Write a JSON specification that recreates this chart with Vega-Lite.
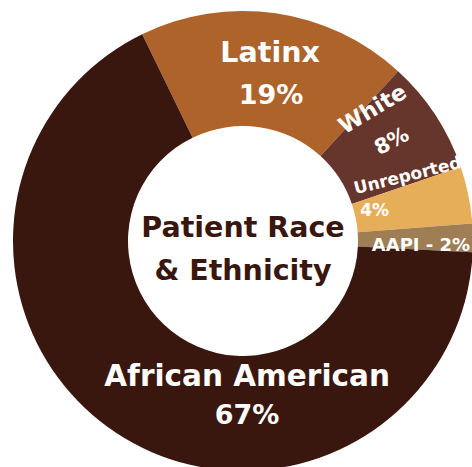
{
  "$schema": "https://vega.github.io/schema/vega-lite/v6.json",
  "width": 486,
  "height": 482,
  "padding": 0,
  "autosize": {"type": "none"},
  "background": "white",
  "config": {"view": {"stroke": null}},
  "layer": [
    {
      "data": {"values": [
        {"category": "Latinx", "value": 19, "order": 1, "pct": "19%"},
        {"category": "White", "value": 8, "order": 2, "pct": "8%"},
        {"category": "Unreported", "value": 4, "order": 3, "pct": "4%"},
        {"category": "AAPI", "value": 2, "order": 4, "pct": "2%"},
        {"category": "African American", "value": 67, "order": 5, "pct": "67%"}
      ]},
      "encoding": {
        "theta": {"field": "value", "type": "quantitative", "stack": true, "scale": {"range": [-0.4538, 5.8294]}},
        "order": {"field": "order", "type": "quantitative"}
      },
      "layer": [
        {
          "mark": {"type": "arc", "innerRadius": 115, "outerRadius": 230},
          "encoding": {
            "color": {"field": "category", "type": "nominal", "legend": null,
              "scale": {"domain": ["Latinx", "White", "Unreported", "AAPI", "African American"],
                        "range": ["#ad6329", "#66362d", "#e7ae5a", "#a07e55", "#39170f"]}}
          }
        },
        {
          "mark": {"type": "text", "radius": 190, "thetaOffset": 0, "font": "DejaVu Sans", "fontWeight": "bold", "fontSize": 28.5, "fill": "white", "align": "center", "baseline": "middle"},
          "encoding": {"text": {"condition": {"test": "datum.category === 'Latinx'", "field": "category"}, "value": ""}}
        },
        {
          "mark": {"type": "text", "radius": 148, "thetaOffset": 0.047, "font": "DejaVu Sans", "fontWeight": "bold", "fontSize": 27, "fill": "white", "align": "center", "baseline": "middle"},
          "encoding": {"text": {"condition": {"test": "datum.category === 'Latinx'", "field": "pct"}, "value": ""}}
        },
        {
          "mark": {"type": "text", "radius": 185, "thetaOffset": -0.213, "angle": 329, "font": "DejaVu Sans", "fontWeight": "bold", "fontSize": 22.5, "fill": "white", "align": "center", "baseline": "middle"},
          "encoding": {"text": {"condition": {"test": "datum.category === 'White'", "field": "category"}, "value": ""}}
        },
        {
          "mark": {"type": "text", "radius": 179, "thetaOffset": -0.007, "angle": 332, "font": "DejaVu Sans", "fontWeight": "bold", "fontSize": 21, "fill": "white", "align": "center", "baseline": "middle"},
          "encoding": {"text": {"condition": {"test": "datum.category === 'White'", "field": "pct"}, "value": ""}}
        },
        {
          "mark": {"type": "text", "radius": 177, "thetaOffset": -0.173, "angle": 346, "font": "DejaVu Sans", "fontWeight": "bold", "fontSize": 17, "fill": "white", "align": "center", "baseline": "middle"},
          "encoding": {"text": {"condition": {"test": "datum.category === 'Unreported'", "field": "category"}, "value": ""}}
        },
        {
          "mark": {"type": "text", "radius": 135, "thetaOffset": -0.02, "font": "DejaVu Sans", "fontWeight": "bold", "fontSize": 17, "fill": "white", "align": "center", "baseline": "middle"},
          "encoding": {"text": {"condition": {"test": "datum.category === 'Unreported'", "field": "pct"}, "value": ""}}
        },
        {
          "mark": {"type": "text", "radius": 178, "thetaOffset": 0.042, "font": "DejaVu Sans", "fontWeight": "bold", "fontSize": 18, "fill": "white", "align": "center", "baseline": "middle"},
          "encoding": {"text": {"condition": {"test": "datum.category === 'AAPI'", "value": "AAPI - 2%"}, "value": ""}}
        },
        {
          "mark": {"type": "text", "radius": 136, "thetaOffset": -0.613, "font": "DejaVu Sans", "fontWeight": "bold", "fontSize": 29.5, "fill": "white", "align": "center", "baseline": "middle"},
          "encoding": {"text": {"condition": {"test": "datum.category === 'African American'", "field": "category"}, "value": ""}}
        },
        {
          "mark": {"type": "text", "radius": 175, "thetaOffset": -0.606, "font": "DejaVu Sans", "fontWeight": "bold", "fontSize": 27, "fill": "white", "align": "center", "baseline": "middle"},
          "encoding": {"text": {"condition": {"test": "datum.category === 'African American'", "field": "pct"}, "value": ""}}
        }
      ]
    },
    {
      "data": {"values": [{"title": "Patient Race\n& Ethnicity"}]},
      "mark": {"type": "text", "lineBreak": "\n", "lineHeight": 43, "dy": -13, "font": "DejaVu Sans", "fontWeight": "bold", "fontSize": 28.5, "fill": "#39170f", "align": "center", "baseline": "middle"},
      "encoding": {"text": {"field": "title", "type": "nominal"}}
    }
  ]
}
